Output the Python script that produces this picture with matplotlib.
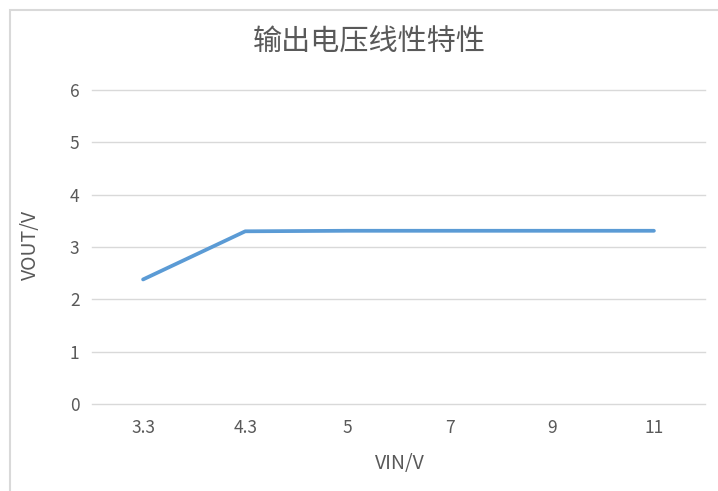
import matplotlib.pyplot as plt
from matplotlib.patches import Rectangle

plt.rcParams['font.family'] = ['Noto Sans CJK SC', 'DejaVu Sans']

vin_labels = ["3.3", "4.3", "5", "7", "9", "11"]
vout = [2.38, 3.30, 3.31, 3.31, 3.31, 3.31]
y_ticks = [0, 1, 2, 3, 4, 5, 6]

W, H = 718, 491
fig = plt.figure(figsize=(W / 100, H / 100), dpi=100)

# chart area frame (runs off the right and bottom edge, as in the screenshot)
fig.patches.append(Rectangle((10 / W, -0.1), 1.2, (H - 10) / H + 0.1,
                             transform=fig.transFigure, fill=False,
                             edgecolor="#D9D9D9", linewidth=1.5))

ax = fig.add_axes([92 / W, (H - 404) / H, (705 - 92) / W, (404 - 90) / H])
x = list(range(len(vin_labels)))
ax.plot(x, vout, color="#5B9BD5", linewidth=2.7, solid_capstyle="round", zorder=3)

ax.set_xlim(-0.5, len(vin_labels) - 0.5)
ax.set_ylim(0, 6)
ax.set_xticks(x)
ax.set_xticklabels(vin_labels)
ax.set_yticks(y_ticks)
ax.grid(axis="y", color="#D9D9D9", linewidth=1.0)
for gl in ax.get_ygridlines():
    gl.set_clip_on(False)
ax.set_axisbelow(True)
for s in ax.spines.values():
    s.set_visible(False)
ax.tick_params(length=0, colors="#595959", labelsize=12.5)
ax.tick_params(axis="x", pad=11)
ax.tick_params(axis="y", pad=9)

fig.text(30 / W, 1 - 245 / H, "VOUT/V", rotation=90, ha="center", va="center",
         fontsize=14, color="#595959")
fig.text(400 / W, 1 - 463 / H, "VIN/V", ha="center", va="center",
         fontsize=14, color="#595959")
fig.text(369 / W, 1 - 43 / H, "输出电压线性特性", ha="center", va="center",
         fontsize=21, color="#595959", fontweight="light")

fig.savefig("out.png", dpi=100)
